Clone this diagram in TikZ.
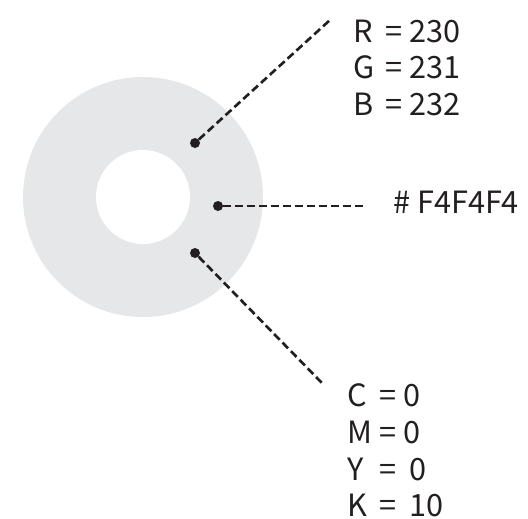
\documentclass[tikz,border=0pt]{standalone}
\usepackage{fontspec}
\setmainfont{Noto Sans CJK SC}
\usepackage{tikz}
\usetikzlibrary{positioning}
\definecolor{ringgray}{RGB}{230,231,232}
\definecolor{inkdark}{RGB}{35,31,32}
\newcommand{\valrow}[2]{\makebox[24pt][l]{#1}\makebox[18.5pt][l]{=}#2}
\begin{document}
\begin{tikzpicture}[x=0.75pt,y=-0.75pt]
\tikzstyle{dot}=[circle,fill=inkdark,minimum size=7.5pt,inner sep=0pt]
\tikzstyle{leader}=[draw=inkdark,line width=2pt,dash pattern=on 6pt off 3pt]
\tikzstyle{label}=[anchor=base west,inner sep=0pt,text=inkdark,font=\fontsize{23}{26}\selectfont]
\useasboundingbox (0,0) rectangle (528,518);
    % the ring
    \fill[ringgray] (143,197) circle (120);
    \fill[white] (143,197) circle (47);

    \node [dot] (d1) at (195,143) {};
    \node [dot] (d2) at (218,206) {};
    \node [dot] (d3) at (195,253) {};

    \coordinate (e1) at (330,20);
    \coordinate (e2) at (367,206);
    \coordinate (e3) at (322,383);

    \draw [leader] (d1) -- (e1);
    \draw [leader] (d2) -- (e2);
    \draw [leader] (d3) -- (e3);

    % rgb
    \node [label] (r) at (353,42) {\valrow{R}{230}};
    \node [label] (g) at (353,78) {\valrow{G}{231}};
    \node [label] (b) at (353,115) {\valrow{B}{232}};
    % hex
    \node [label] (hex) at (393,213) {\# F4F4F4};
    % cmyk
    \node [label] (c) at (347,406) {\valrow{C}{0}};
    \node [label] (m) at (347,443) {\valrow{M}{0}};
    \node [label] (y) at (347,480) {\valrow{Y}{\,0}};
    \node [label] (k) at (347,516) {\valrow{K}{\,10}};
\end{tikzpicture}
\end{document}
